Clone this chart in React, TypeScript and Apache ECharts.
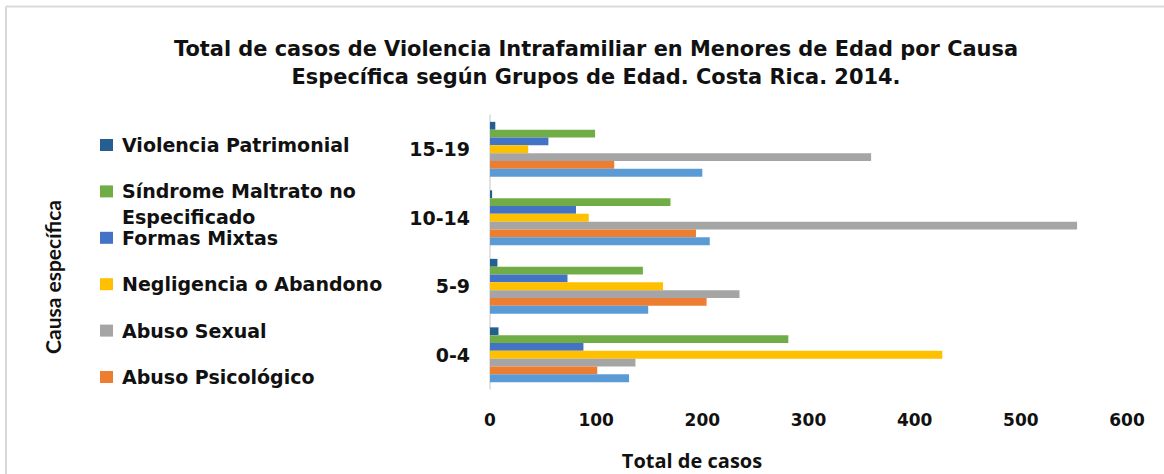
import React, { useEffect, useRef } from "react";
import * as echarts from "echarts";

const categories = ["0-4", "5-9", "10-14", "15-19"];
const xTicks = [0, 100, 200, 300, 400, 500, 600];

const violenciaPatrimonial = [8, 7, 2, 5];
const sindrome = [281, 144, 170, 99];
const formasMixtas = [88, 73, 81, 55];
const negligencia = [426, 163, 93, 36];
const abusoSexual = [137, 235, 553, 359];
const abusoPsicologico = [101, 204, 194, 117];
const abusoFisico = [131, 149, 207, 200];

const seriesDefs = [
  { name: "Violencia Patrimonial", data: violenciaPatrimonial, color: "#255E91" },
  { name: "Síndrome Maltrato no Especificado", data: sindrome, color: "#70AD47" },
  { name: "Formas Mixtas", data: formasMixtas, color: "#4472C4" },
  { name: "Negligencia o Abandono", data: negligencia, color: "#FFC000" },
  { name: "Abuso Sexual", data: abusoSexual, color: "#A5A5A5" },
  { name: "Abuso Psicológico", data: abusoPsicologico, color: "#ED7D31" },
  { name: "Abuso Físico", data: abusoFisico, color: "#5B9BD5" },
];

const legendNames = [
  "Violencia Patrimonial",
  "Síndrome Maltrato no Especificado",
  "Formas Mixtas",
  "Negligencia o Abandono",
  "Abuso Sexual",
  "Abuso Psicológico",
];

const titleLines = [
  "Total de casos de Violencia Intrafamiliar en Menores de Edad por Causa",
  "Específica según Grupos de Edad. Costa Rica. 2014.",
];

export default function App() {
  const ref = useRef<HTMLDivElement>(null);
  useEffect(() => {
    if (!ref.current) return;
    const chart = echarts.init(ref.current, null, { renderer: "svg" });
    chart.setOption({
      animation: false,
      backgroundColor: "#ffffff",
      legend: {
        orient: "vertical",
        left: 100,
        top: 134,
        padding: 0,
        data: legendNames,
        itemWidth: 13,
        itemHeight: 12,
        itemGap: 24.4,
        icon: "rect",
        formatter: (n: string) => (n === "Síndrome Maltrato no Especificado" ? "Síndrome Maltrato no" : n),
        textStyle: {
          fontFamily: "DejaVu Sans",
          fontWeight: "bold",
          fontSize: 19,
          lineHeight: 22,
          color: "#111",
          padding: [0, 0, 0, 4],
        },
      },
      grid: { left: 490, right: 37, top: 115, bottom: 85, containLabel: false },
      xAxis: {
        type: "value",
        min: 0,
        max: 600,
        interval: 100,
        splitLine: { show: false },
        axisLine: { show: false },
        axisTick: { show: false },
        axisLabel: {
          margin: 22,
          fontFamily: "DejaVu Sans",
          fontWeight: "bold",
          fontSize: 17,
          color: "#111",
          formatter: (v: number) => (xTicks.includes(v) ? String(v) : ""),
        },
      },
      yAxis: {
        type: "category",
        data: categories,
        axisLine: { show: true, lineStyle: { color: "#d9d9d9", width: 1.5 } },
        axisTick: { show: false },
        axisLabel: {
          margin: 20,
          fontFamily: "DejaVu Sans",
          fontWeight: "bold",
          fontSize: 19,
          color: "#111",
        },
      },
      series: seriesDefs.map((s) => ({
        type: "bar",
        name: s.name,
        data: s.data,
        barGap: "0%",
        barCategoryGap: "20%",
        itemStyle: { color: s.color },
      })),
      graphic: [
        {
          type: "line",
          shape: { x1: 6, y1: 6.5, x2: 1164, y2: 6.5 },
          style: { stroke: "#d9d9d9", lineWidth: 2 },
        },
        {
          type: "line",
          shape: { x1: 6, y1: 6.5, x2: 6, y2: 474 },
          style: { stroke: "#d9d9d9", lineWidth: 2 },
        },
        ...titleLines.map((t, i) => ({
          type: "text",
          x: 596,
          y: 49 + i * 28,
          style: {
            text: t,
            fontFamily: "DejaVu Sans",
            fontWeight: "bold",
            fontSize: 20.9,
            fill: "#111",
            align: "center",
            verticalAlign: "middle",
          },
        })),
        {
          type: "text",
          x: 122,
          y: 217,
          style: {
            text: "Especificado",
            fontFamily: "DejaVu Sans",
            fontWeight: "bold",
            fontSize: 19,
            fill: "#111",
            verticalAlign: "middle",
          },
        },
        {
          type: "text",
          x: 692,
          y: 460,
          style: {
            text: "Total de casos",
            fontFamily: "Open Sans",
            fontWeight: "bold",
            fontSize: 20,
            fill: "#111",
            align: "center",
            verticalAlign: "middle",
          },
        },
        {
          type: "text",
          x: 52,
          y: 277,
          rotation: Math.PI / 2,
          style: {
            text: "Causa específica",
            fontFamily: "Lato",
            fontWeight: "bold",
            fontSize: 21,
            fill: "#111",
            align: "center",
            verticalAlign: "middle",
          },
        },
      ],
    });
    return () => chart.dispose();
  }, []);
  return <div ref={ref} style={{ width: 1164, height: 474, position: "absolute", left: 0, top: 0 }} />;
}
